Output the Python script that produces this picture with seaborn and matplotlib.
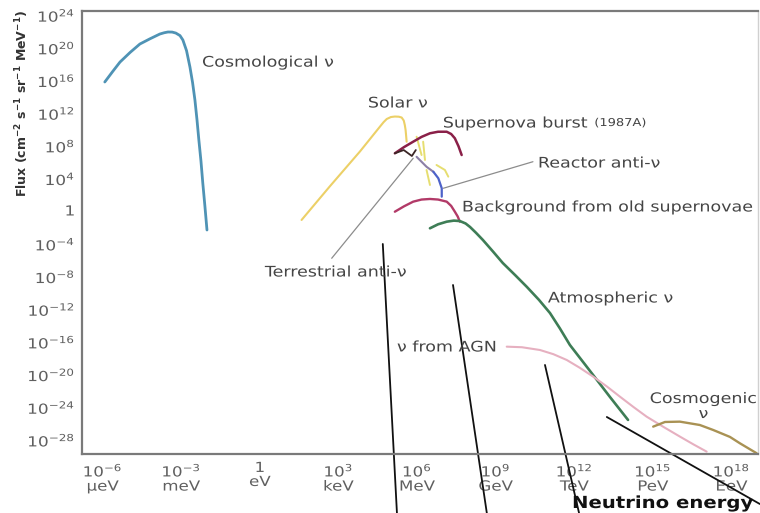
import numpy as np
import pandas as pd
import matplotlib
matplotlib.use("Agg")
import matplotlib.pyplot as plt
import seaborn as sns
from matplotlib.ticker import FixedLocator, FuncFormatter, NullFormatter
from matplotlib.patheffects import AbstractPathEffect
from matplotlib.transforms import Affine2D

sns.set_theme(style="white")
plt.rcParams["font.family"] = ["DejaVu Sans"]
plt.rcParams["mathtext.default"] = "regular"

# Spectra: log10(E / eV) and log10(flux / cm^-2 s^-1 sr^-1 MeV^-1)
cosmo_logE = [-5.92, -5.62, -5.34, -4.95, -4.58, -4.20, -3.82, -3.65, -3.51, -3.35, -3.21,
              -3.05, -2.94, -2.80, -2.67, -2.57, -2.48, -2.40, -2.33, -2.25, -2.18, -2.10, -2.02]
cosmo_logF = [15.67, 16.95, 18.11, 19.30, 20.32, 20.95, 21.54, 21.70, 21.79, 21.78, 21.66,
              21.35, 20.81, 19.50, 17.50, 15.60, 13.46, 11.00, 8.57, 6.00, 3.30, 0.50, -2.45]

solar_logE = [1.59, 2.67, 3.82, 4.58, 4.72, 4.84, 5.00, 5.15, 5.30, 5.41, 5.49, 5.53, 5.56, 5.58, 5.60]
solar_logF = [-1.22, 2.90, 7.17, 10.20, 10.75, 11.14, 11.38, 11.44, 11.42, 11.32, 10.95, 10.40, 9.80, 9.10, 8.36]
solar_lines_logE = [[5.98, 6.17], [6.23, 6.30], [6.36, 6.49], [6.74, 7.06, 7.19]]
solar_lines_logF = [[8.97, 6.73], [8.36, 6.12], [4.90, 3.06], [5.51, 4.90, 4.08]]

sn_logE = [5.15, 5.50, 5.85, 6.17, 6.49, 6.80, 7.13, 7.30, 7.44, 7.58, 7.70]
sn_logF = [6.94, 7.70, 8.36, 8.95, 9.39, 9.58, 9.58, 9.30, 8.78, 7.80, 6.73]

terr_logE = [5.15, 5.49, 5.80, 5.95]
terr_logF = [6.94, 7.34, 6.61, 7.34]

reactor_upper_logE = [5.98, 6.36, 6.62]
reactor_upper_logF = [6.51, 5.29, 4.68]
reactor_logE = [6.62, 6.81, 6.94, 6.94]
reactor_logF = [4.68, 3.88, 2.66, 1.63]

relic_logE = [5.15, 5.50, 5.85, 6.17, 6.49, 6.80, 7.13, 7.30, 7.44, 7.55, 7.63]
relic_logF = [-0.21, 0.45, 1.02, 1.28, 1.35, 1.28, 1.02, 0.50, -0.21, -0.80, -1.43]

atmo_logE = [6.49, 6.80, 7.13, 7.40, 7.63, 7.85, 8.02, 8.25, 8.51, 8.90, 9.27, 9.75, 10.19,
             10.65, 11.07, 11.45, 11.83, 12.60, 13.36, 14.05]
atmo_logF = [-2.24, -1.75, -1.43, -1.30, -1.35, -1.65, -2.08, -2.80, -3.67, -5.10, -6.49, -8.00,
             -9.42, -11.00, -12.61, -14.50, -16.52, -19.71, -22.89, -25.70]

agn_logE = [9.42, 10.00, 10.69, 11.20, 11.71, 12.20, 12.72, 13.24, 13.74, 14.25, 14.76, 15.40,
            16.03, 16.55, 17.05]
agn_logF = [-16.73, -16.80, -17.14, -17.65, -18.36, -19.30, -20.40, -21.60, -22.85, -24.10,
            -25.30, -26.55, -27.74, -28.70, -29.58]

cosmogenic_logE = [15.01, 15.46, 16.03, 16.79, 17.30, 17.94, 18.32, 18.96]
cosmogenic_logF = [-26.52, -25.95, -25.91, -26.32, -26.93, -27.78, -28.56, -29.78]

# Label leader lines
leader_logE = [[2.74, 5.85], [7.00, 10.42]]
leader_logF = [[-5.91, 6.33], [2.66, 5.91]]

# Long pointer strokes running off the bottom of the plot
pointer_logE = [[4.69, 5.23], [7.37, 8.66], [10.88, 12.18], [13.24, 19.08]]
pointer_logF = [[-4.16, -37.09], [-9.18, -37.09], [-18.97, -37.09], [-25.34, -35.99]]

x_tick_exps = list(range(-6, 20))
x_label_text = {-6: "$10^{-6}$\nμeV", -3: "$10^{-3}$\nmeV", 0: "1\neV", 3: "$10^{3}$\nkeV",
                6: "$10^{6}$\nMeV", 9: "$10^{9}$\nGeV", 12: "$10^{12}$\nTeV",
                15: "$10^{15}$\nPeV", 18: "$10^{18}$\nEeV"}
y_major_exps = list(range(-28, 25, 4))
y_minor_exps = list(range(-30, 25, 2))

labels = [
    ("Cosmological ν", -2.21, 18.1),
    ("Solar ν", 4.12, 13.1),
    ("Reactor anti-ν", 10.61, 5.75),
    ("Background from old supernovae", 7.71, 0.37),
    ("Terrestrial anti-ν", 0.19, -7.59),
    ("Atmospheric ν", 10.99, -10.77),
    ("ν from AGN", 5.23, -16.77),
]


class Widen(AbstractPathEffect):
    """Draw glyphs stretched horizontally about the left, centre or right of each line."""

    def __init__(self, sx=1.2, anchor="left"):
        super().__init__()
        self.sx = sx
        self.anchor = anchor

    def draw_path(self, renderer, gc, tpath, affine, rgbFace=None):
        ext = tpath.get_extents()
        if self.anchor == "center":
            ox = 0.5 * (ext.x0 + ext.x1)
        elif self.anchor == "right":
            ox = ext.x1
        else:
            ox = 0.0
        stretch = Affine2D().translate(-ox, 0).scale(self.sx, 1.0).translate(ox, 0)
        renderer.draw_path(gc, tpath, stretch + affine, rgbFace)


fig = plt.figure(figsize=(7.6, 5.13), dpi=100)
ax = fig.add_axes([82 / 760, 1 - 454 / 513, (758 - 82) / 760, (454 - 11) / 513])
ax.set_xscale("log")
ax.set_yscale("log")


def draw(logE, logF, color, lw=1.8):
    df = pd.DataFrame({"E": np.power(10.0, logE), "F": np.power(10.0, logF)})
    sns.lineplot(data=df, x="E", y="F", ax=ax, color=color, linewidth=lw,
                 sort=False, estimator=None, legend=False)
    ax.lines[-1].set_solid_joinstyle("round")
    ax.lines[-1].set_solid_capstyle("round")


draw(cosmo_logE, cosmo_logF, "#4f93b5", 2.0)
draw(solar_logE, solar_logF, "#ecd067", 1.5)
for le, lf in zip(solar_lines_logE, solar_lines_logF):
    draw(le, lf, "#e6de70", 1.4)
draw(relic_logE, relic_logF, "#b23a68", 1.7)
draw(atmo_logE, atmo_logF, "#3e7d56", 1.9)
draw(agn_logE, agn_logF, "#e6b0c0", 1.5)
draw(cosmogenic_logE, cosmogenic_logF, "#a99254", 1.7)
draw(reactor_upper_logE, reactor_upper_logF, "#8c7fa6", 1.5)
draw(reactor_logE, reactor_logF, "#4d62c9", 1.6)
draw(sn_logE, sn_logF, "#8a2048", 1.8)
draw(terr_logE, terr_logF, "#3b2626", 1.3)

for le, lf in zip(leader_logE, leader_logF):
    ax.plot(np.power(10.0, le), np.power(10.0, lf), color="#8c8c8c", lw=0.9)
for le, lf in zip(pointer_logE, pointer_logF):
    ax.plot(np.power(10.0, le), np.power(10.0, lf), color="#111111", lw=1.3, clip_on=False)

ax.set_xlim(10 ** -6.79, 10 ** 19.01)
ax.set_ylim(10 ** -29.87, 10 ** 24.36)

ax.xaxis.set_major_locator(FixedLocator([10.0 ** e for e in x_tick_exps]))
ax.xaxis.set_minor_locator(FixedLocator([]))
ax.xaxis.set_major_formatter(FuncFormatter(
    lambda v, p: x_label_text.get(int(round(np.log10(v))), "")))
ax.yaxis.set_major_locator(FixedLocator([10.0 ** e for e in y_major_exps]))
ax.yaxis.set_minor_locator(FixedLocator([10.0 ** e for e in y_minor_exps]))
ax.yaxis.set_minor_formatter(NullFormatter())
ax.yaxis.set_major_formatter(FuncFormatter(
    lambda v, p: "1" if int(round(np.log10(v))) == 0 else "$10^{%d}$" % int(round(np.log10(v)))))

ax.tick_params(axis="both", which="both", direction="in", color="#6f6f6f",
               width=1.0, length=4, labelcolor="#5f5f5f", labelsize=10)
ax.tick_params(axis="x", pad=5)
ax.tick_params(axis="y", pad=5)

for side in ["left", "bottom", "top"]:
    ax.spines[side].set_color("#7a7a7a")
    ax.spines[side].set_linewidth(1.6)
ax.spines["right"].set_color("#d0d0d0")
ax.spines["right"].set_linewidth(1.0)
ax.set_xlabel("")
ax.set_ylabel("")

label_fx = [Widen(1.2, "left")]
for text, le, lf in labels:
    ax.text(10.0 ** le, 10.0 ** lf, text, ha="left", va="center", fontsize=10.5,
            color="#454545", clip_on=False, path_effects=label_fx)

ax.text(10.0 ** 16.93, 10.0 ** -24.0, "Cosmogenic\nν", ha="center", va="center", fontsize=10.5,
        color="#454545", linespacing=1.0, path_effects=[Widen(1.2, "center")])

sn_label = ax.text(10.0 ** 6.98, 10.0 ** 10.65, "Supernova burst ", ha="left", va="center",
                   fontsize=10.5, color="#454545", path_effects=label_fx)
ax.annotate("(1987A)", xycoords=sn_label, xy=(1.2, 0.5), va="center", ha="left",
            fontsize=7.8, color="#454545", path_effects=label_fx)

fig.text(22 / 760, 1 - 103 / 513, "Flux (cm$^{-2}$ s$^{-1}$ sr$^{-1}$ MeV$^{-1}$)",
         rotation=90, ha="center", va="center", fontsize=9, fontweight="bold", color="#333333")
fig.text(572 / 760, 1 - 503 / 513, "Neutrino energy", ha="left", va="center",
         fontsize=12, fontweight="bold", color="#111111", path_effects=[Widen(1.18, "left")])

fig.canvas.draw()
for tick in ax.xaxis.get_major_ticks():
    tick.label1.set_linespacing(1.0)
    tick.label1.set_path_effects([Widen(1.2, "center")])
for tick in ax.yaxis.get_major_ticks():
    tick.label1.set_path_effects([Widen(1.22, "right")])

fig.savefig("out.png", dpi=100, facecolor="white")
